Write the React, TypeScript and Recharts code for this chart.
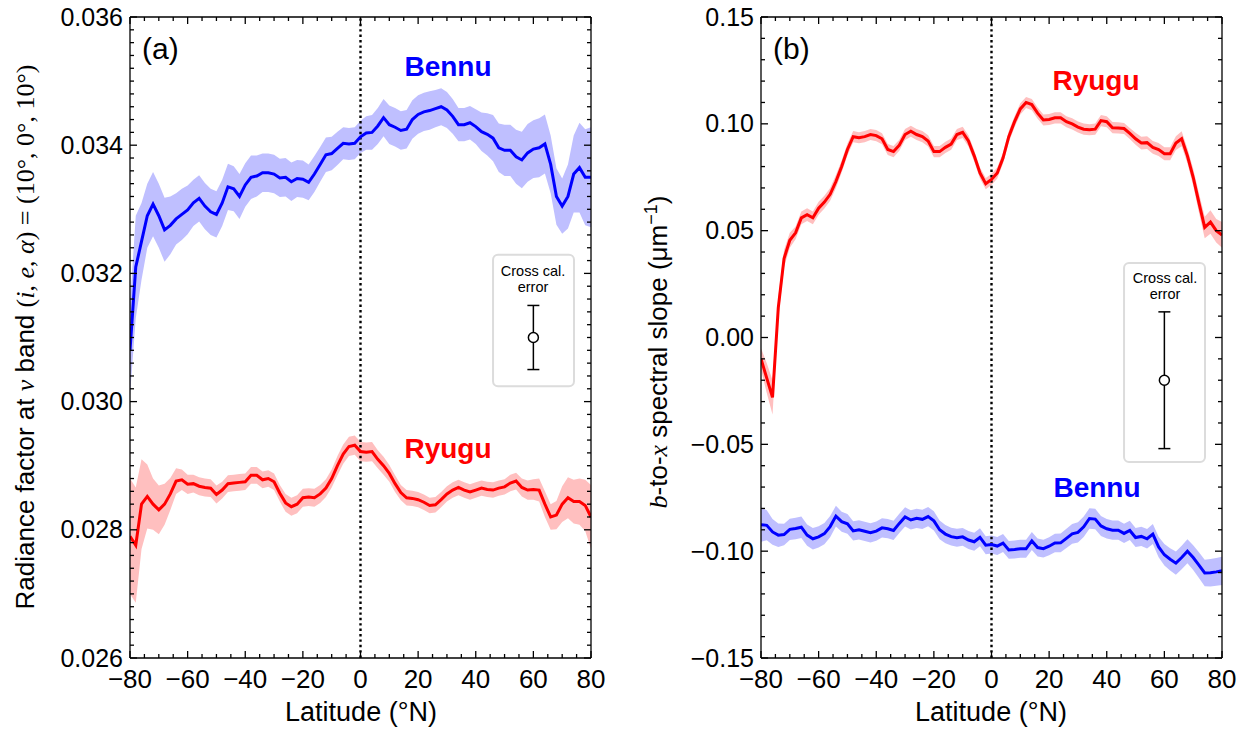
import React from 'react'
import { ComposedChart, Area, Line, Scatter, ErrorBar, XAxis, YAxis, ReferenceLine, ReferenceArea } from 'recharts'

const SANS = '"Liberation Sans", Arial, Helvetica, sans-serif'
const SERIF = '"Liberation Serif", "DejaVu Serif", serif'

// latitude grid (deg N)
const LAT = [
  -80, -78, -76, -74, -72, -70, -68, -66, -64, -62, -60, -58, -56, -54, -52, -50, -48, -46, -44, -42,
  -40, -38, -36, -34, -32, -30, -28, -26, -24, -22, -20, -18, -16, -14, -12, -10, -8, -6, -4, -2,
  0, 2, 4, 6, 8, 10, 12, 14, 16, 18, 20, 22, 24, 26, 28, 30, 32, 34, 36, 38,
  40, 42, 44, 46, 48, 50, 52, 54, 56, 58, 60, 62, 64, 66, 68, 70, 72, 74, 76, 78, 80,
]

// (a) radiance factor at v band
const BENNU_A = [
  0.0308, 0.0321, 0.0325, 0.0329, 0.03308, 0.0329, 0.03268, 0.03275, 0.03285, 0.03292,
  0.03299, 0.0331, 0.03317, 0.03305, 0.03296, 0.03292, 0.0331, 0.03335, 0.03332, 0.0332,
  0.03338, 0.0335, 0.03352, 0.03357, 0.03357, 0.03355, 0.03349, 0.0335, 0.03343, 0.03348,
  0.03347, 0.03342, 0.03355, 0.0337, 0.03385, 0.03387, 0.03395, 0.03403, 0.03402, 0.03403,
  0.03413, 0.03419, 0.0342, 0.0343, 0.03443, 0.03432, 0.03428, 0.03423, 0.03425, 0.0344,
  0.03448, 0.03452, 0.03454, 0.03457, 0.0346, 0.03455, 0.03445, 0.03432, 0.03432, 0.03435,
  0.03429, 0.03421, 0.03417, 0.03411, 0.03396, 0.03392, 0.03392, 0.03382, 0.03377, 0.03388,
  0.03394, 0.03396, 0.03402, 0.0337, 0.0332, 0.03305, 0.0332, 0.03355, 0.03365, 0.0335, 0.0335,
]
const BENNU_A_ERR = [
  0.0007, 0.0008, 0.0006, 0.0005, 0.0005, 0.0005, 0.0005, 0.00045, 0.0004, 0.0004,
  0.00038, 0.00036, 0.00036, 0.00036, 0.00036, 0.00036, 0.00036, 0.00036, 0.00035, 0.00035,
  0.00034, 0.00034, 0.00032, 0.0003, 0.0003, 0.0003, 0.0003, 0.0003, 0.0003, 0.00029,
  0.00029, 0.00028, 0.00028, 0.00027, 0.00027, 0.00026, 0.00026, 0.00025, 0.00025, 0.00025,
  0.00025, 0.00026, 0.00027, 0.00028, 0.00029, 0.0003, 0.0003, 0.0003, 0.0003, 0.0003,
  0.0003, 0.0003, 0.0003, 0.00029, 0.00029, 0.00028, 0.00027, 0.00026, 0.00026, 0.00026,
  0.00027, 0.0003, 0.00033, 0.00036, 0.00038, 0.0004, 0.0004, 0.00042, 0.00044, 0.00045,
  0.00045, 0.00046, 0.00046, 0.00045, 0.00044, 0.00043, 0.0005, 0.0006, 0.0007, 0.00075, 0.00078,
]
const RYUGU_A = [
  0.0279, 0.02776, 0.0284, 0.02852, 0.0284, 0.02831, 0.0284, 0.02856, 0.02876, 0.02878,
  0.02871, 0.02872, 0.02868, 0.02866, 0.02865, 0.02855, 0.02862, 0.02872, 0.02873, 0.02874,
  0.02875, 0.02885, 0.02885, 0.02878, 0.0288, 0.02875, 0.02857, 0.02842, 0.02836, 0.0284,
  0.0285, 0.02851, 0.0285, 0.02856, 0.02865, 0.0288, 0.029, 0.02918, 0.0293, 0.02932,
  0.02922, 0.02921, 0.02922, 0.0291, 0.029, 0.02888, 0.02872, 0.02858, 0.0285, 0.02849,
  0.02847, 0.02843, 0.02838, 0.02839, 0.02847, 0.02856, 0.02862, 0.02866, 0.02862, 0.02859,
  0.02862, 0.02865, 0.02863, 0.02862, 0.02865, 0.02867, 0.02873, 0.02876, 0.02866, 0.02862,
  0.02863, 0.02862, 0.0284, 0.0282, 0.02823, 0.0284, 0.0285, 0.02844, 0.02844, 0.02838, 0.0282,
]
const RYUGU_A_ERR = [
  0.0009, 0.0009, 0.0007, 0.0005, 0.0004, 0.00038, 0.00032, 0.00025, 0.0002, 0.00016,
  0.00015, 0.00014, 0.00014, 0.00014, 0.00014, 0.00014, 0.00013, 0.00013, 0.00013, 0.00013,
  0.00013, 0.00013, 0.00013, 0.00013, 0.00013, 0.00013, 0.00013, 0.00014, 0.00014, 0.00014,
  0.00014, 0.00014, 0.00014, 0.00014, 0.00014, 0.00014, 0.00015, 0.00015, 0.00015, 0.00015,
  0.00015, 0.00015, 0.00015, 0.00014, 0.00014, 0.00013, 0.00013, 0.00012, 0.00012, 0.00012,
  0.00012, 0.00012, 0.00012, 0.00012, 0.00012, 0.00012, 0.00012, 0.00012, 0.00012, 0.00012,
  0.00012, 0.00012, 0.00012, 0.00012, 0.00012, 0.00012, 0.00013, 0.00013, 0.00014, 0.00015,
  0.00016, 0.00018, 0.0002, 0.0002, 0.00022, 0.00028, 0.00032, 0.00034, 0.00036, 0.0004, 0.0005,
]

// (b) b-to-x spectral slope
const RYUGU_B = [
  -0.010, -0.019, -0.028, 0.014, 0.037, 0.0455, 0.049, 0.056, 0.0575, 0.056,
  0.0605, 0.0634, 0.067, 0.073, 0.080, 0.088, 0.094, 0.0935, 0.094, 0.095,
  0.0945, 0.093, 0.088, 0.087, 0.090, 0.095, 0.0965, 0.095, 0.094, 0.092,
  0.087, 0.087, 0.089, 0.0905, 0.095, 0.096, 0.092, 0.085, 0.077, 0.072,
  0.074, 0.077, 0.084, 0.094, 0.101, 0.107, 0.110, 0.109, 0.105, 0.1018,
  0.102, 0.1028, 0.1028, 0.101, 0.100, 0.0985, 0.0975, 0.0972, 0.0975, 0.1015,
  0.101, 0.0982, 0.0981, 0.0978, 0.0955, 0.093, 0.091, 0.0912, 0.089, 0.088,
  0.086, 0.086, 0.091, 0.093, 0.085, 0.075, 0.063, 0.0515, 0.054, 0.050, 0.048,
]
const RYUGU_B_ERR = [
  0.005, 0.007, 0.008, 0.005, 0.004, 0.0035, 0.003, 0.003, 0.003, 0.003,
  0.003, 0.003, 0.003, 0.003, 0.0028, 0.0028, 0.0026, 0.0026, 0.0026, 0.0026,
  0.0026, 0.0026, 0.0026, 0.0026, 0.0026, 0.0026, 0.0026, 0.0026, 0.0026, 0.0026,
  0.0026, 0.0026, 0.0026, 0.0026, 0.0026, 0.0026, 0.0026, 0.0026, 0.0026, 0.0026,
  0.0026, 0.0026, 0.0026, 0.0026, 0.0026, 0.0026, 0.0026, 0.0026, 0.0026, 0.0026,
  0.0026, 0.0026, 0.0026, 0.0026, 0.0026, 0.0026, 0.0026, 0.0026, 0.0026, 0.0026,
  0.0026, 0.0026, 0.0026, 0.0026, 0.0026, 0.0028, 0.003, 0.003, 0.003, 0.003,
  0.003, 0.003, 0.0032, 0.0035, 0.0035, 0.004, 0.0045, 0.005, 0.0055, 0.0055, 0.006,
]
const BENNU_B = [
  -0.0876, -0.0879, -0.091, -0.0925, -0.0922, -0.0898, -0.0894, -0.0888, -0.0925, -0.0942,
  -0.0933, -0.0918, -0.0885, -0.0836, -0.0862, -0.0872, -0.0905, -0.09, -0.0907, -0.0914,
  -0.0906, -0.0891, -0.0895, -0.0903, -0.087, -0.084, -0.0854, -0.0846, -0.0851, -0.0838,
  -0.0858, -0.09, -0.092, -0.0932, -0.0937, -0.0933, -0.0948, -0.0956, -0.0935, -0.0972,
  -0.0969, -0.0976, -0.0962, -0.0994, -0.0992, -0.0989, -0.0989, -0.0952, -0.0983, -0.0988,
  -0.0977, -0.0962, -0.0961, -0.094, -0.0919, -0.0912, -0.0886, -0.0847, -0.085, -0.0882,
  -0.0895, -0.0902, -0.0902, -0.0917, -0.0903, -0.0936, -0.0931, -0.0942, -0.092, -0.098,
  -0.1017, -0.1038, -0.1056, -0.103, -0.1, -0.103, -0.1065, -0.1102, -0.1101, -0.1097, -0.1092,
]
const BENNU_B_ERR = [
  0.008, 0.007, 0.006, 0.0055, 0.005, 0.005, 0.005, 0.005, 0.005, 0.005,
  0.005, 0.005, 0.005, 0.0048, 0.0047, 0.0046, 0.0045, 0.0045, 0.0045, 0.0045,
  0.0045, 0.0045, 0.0045, 0.0045, 0.0045, 0.0045, 0.0045, 0.0045, 0.0045, 0.0045,
  0.0045, 0.0044, 0.0043, 0.0042, 0.0042, 0.0042, 0.0042, 0.0042, 0.0042, 0.0042,
  0.0042, 0.0042, 0.0042, 0.0042, 0.0042, 0.0042, 0.0042, 0.0042, 0.0042, 0.0042,
  0.0042, 0.0043, 0.0044, 0.0045, 0.0046, 0.0047, 0.0048, 0.0048, 0.0048, 0.0047,
  0.0046, 0.0045, 0.0045, 0.0045, 0.0045, 0.0045, 0.0045, 0.0046, 0.0047, 0.0048,
  0.005, 0.0052, 0.0054, 0.0055, 0.0056, 0.0058, 0.006, 0.0062, 0.0064, 0.0065, 0.0066,
]

// cross-calibration error markers
const CROSS_A = [{ lat: 60, value: 0.031, err: 0.0005 }]
const CROSS_B = [{ lat: 60, value: -0.02, err: 0.032 }]

// ticks
const LAT_TICKS = [-80, -75, -70, -65, -60, -55, -50, -45, -40, -35, -30, -25, -20, -15, -10, -5, 0,
  5, 10, 15, 20, 25, 30, 35, 40, 45, 50, 55, 60, 65, 70, 75, 80]
const LAT_LABELS = [-80, -60, -40, -20, 0, 20, 40, 60, 80]
const RAD_LABELS = [0.026, 0.028, 0.03, 0.032, 0.034, 0.036]
const SLOPE_LABELS = [-0.15, -0.1, -0.05, 0, 0.05, 0.1, 0.15]
const RAD_TICKS = Array.from({ length: 51 }, (_, i) => Math.round((0.026 + i * 0.0002) * 1e5) / 1e5)
const SLOPE_TICKS = Array.from({ length: 31 }, (_, i) => Math.round((-0.15 + i * 0.01) * 100) / 100)

const W = 616
const H = 729
const AXIS = { stroke: '#000', strokeWidth: 1.3 }
const MAJOR = 7
const MINOR = 4

const minus = (s: string) => s.replace('-', '\u2212')
const fmtLat = (v: number) => minus(String(v))
const fmtRad = (v: number) => v.toFixed(3)
const fmtSlope = (v: number) => (Math.abs(v) < 1e-9 ? '0.00' : minus(v.toFixed(2)))

function buildRows(a: number[], aErr: number[], b: number[], bErr: number[]) {
  return LAT.map((lat, i) => ({
    lat,
    bennu: a[i],
    bennuBand: [a[i] - aErr[i], a[i] + aErr[i]],
    ryugu: b[i],
    ryuguBand: [b[i] - bErr[i], b[i] + bErr[i]],
  }))
}

const ROWS_A = buildRows(BENNU_A, BENNU_A_ERR, RYUGU_A, RYUGU_A_ERR)
const ROWS_B = buildRows(BENNU_B, BENNU_B_ERR, RYUGU_B, RYUGU_B_ERR)

const near = (list: number[], v: number) => list.some(m => Math.abs(m - v) < 1e-9)

interface PanelProps {
  rows: ReturnType<typeof buildRows>
  domain: [number, number]
  yTicks: number[]
  yLabels: number[]
  fmt: (v: number) => string
  cross: { lat: number; value: number; err: number }[]
  box: [number, number, number, number]
}

function Panel({ rows, domain, yTicks, yLabels, fmt, cross, box }: PanelProps) {
  const bottomTick = (p: any) => {
    const major = near(LAT_LABELS, p.payload.value)
    return (
      <g>
        <line x1={p.x} x2={p.x} y1={p.y} y2={p.y - (major ? MAJOR : MINOR)} stroke="#000" strokeWidth={1.3} />
        {major && (
          <text x={p.x} y={p.y + 30} textAnchor="middle" fontSize={26} fontFamily={SANS} fill="#000">
            {fmtLat(p.payload.value)}
          </text>
        )}
      </g>
    )
  }
  const topTick = (p: any) => {
    const major = near(LAT_LABELS, p.payload.value)
    return <line x1={p.x} x2={p.x} y1={p.y} y2={p.y + (major ? MAJOR : MINOR)} stroke="#000" strokeWidth={1.3} />
  }
  const leftTick = (p: any) => {
    const major = near(yLabels, p.payload.value)
    return (
      <g>
        <line x1={p.x} x2={p.x + (major ? MAJOR : MINOR)} y1={p.y} y2={p.y} stroke="#000" strokeWidth={1.3} />
        {major && (
          <text x={p.x - 7} y={p.y} dy="0.34em" textAnchor="end" fontSize={25} fontFamily={SANS} fill="#000">
            {fmt(p.payload.value)}
          </text>
        )}
      </g>
    )
  }
  const rightTick = (p: any) => {
    const major = near(yLabels, p.payload.value)
    return <line x1={p.x} x2={p.x - (major ? MAJOR : MINOR)} y1={p.y} y2={p.y} stroke="#000" strokeWidth={1.3} />
  }

  return (
    <ComposedChart width={W} height={H} data={rows} margin={{ top: 16, right: 24, bottom: 0, left: 0 }}>
      <XAxis xAxisId="b" type="number" dataKey="lat" domain={[-80, 80]} ticks={LAT_TICKS} interval={0}
        tickSize={0} tickMargin={0} height={71} axisLine={AXIS} tickLine={false} tick={bottomTick} allowDataOverflow />
      <XAxis xAxisId="t" orientation="top" type="number" dataKey="lat" domain={[-80, 80]} ticks={LAT_TICKS} interval={0}
        tickSize={0} tickMargin={0} height={1} axisLine={AXIS} tickLine={false} tick={topTick} allowDataOverflow />
      <YAxis yAxisId="l" type="number" domain={domain} ticks={yTicks} interval={0} width={130}
        tickSize={0} tickMargin={0} axisLine={AXIS} tickLine={false} tick={leftTick} allowDataOverflow />
      <YAxis yAxisId="r" orientation="right" type="number" domain={domain} ticks={yTicks} interval={0} width={1}
        tickSize={0} tickMargin={0} axisLine={AXIS} tickLine={false} tick={rightTick} allowDataOverflow />

      <ReferenceArea xAxisId="b" yAxisId="l" x1={box[0]} x2={box[1]} y1={box[2]} y2={box[3]}
        shape={(p: any) => (
          <rect x={p.x} y={p.y} width={p.width} height={p.height} rx={5} ry={5} fill="#fff" stroke="#dcdcdc" strokeWidth={2} />
        )} />

      <Area xAxisId="b" yAxisId="l" type="linear" dataKey="bennuBand" stroke="none" fill="#bfbfff" fillOpacity={1} isAnimationActive={false} />
      <Area xAxisId="b" yAxisId="l" type="linear" dataKey="ryuguBand" stroke="none" fill="#ffbfbf" fillOpacity={1} isAnimationActive={false} />
      <ReferenceLine xAxisId="b" yAxisId="l" x={0} stroke="#000" strokeWidth={2.4} strokeDasharray="2.4 3" />
      <Line xAxisId="b" yAxisId="l" type="linear" dataKey="bennu" stroke="#0000ff" strokeWidth={3} dot={false} isAnimationActive={false} />
      <Line xAxisId="b" yAxisId="l" type="linear" dataKey="ryugu" stroke="#ff0000" strokeWidth={3} dot={false} isAnimationActive={false} />

      <Scatter xAxisId="b" yAxisId="l" data={cross} dataKey="value" isAnimationActive={false}
        shape={(p: any) => <circle cx={p.cx} cy={p.cy} r={5} fill="#fff" stroke="#000" strokeWidth={1.5} />}>
        <ErrorBar dataKey="err" direction="y" width={6} stroke="#000" strokeWidth={1.5} />
      </Scatter>
    </ComposedChart>
  )
}

export default function App() {
  const ital = { fontFamily: SERIF, fontStyle: 'italic' as const }
  return (
    <div style={{ position: 'absolute', left: 0, top: 0, width: 1247, height: 729, overflow: 'hidden', background: '#fff' }}>
      <div style={{ position: 'absolute', left: 0, top: 0 }}>
        <Panel rows={ROWS_A} domain={[0.026, 0.036]} yTicks={RAD_TICKS} yLabels={RAD_LABELS} fmt={fmtRad}
          cross={CROSS_A} box={[46, 74.1, 0.03024, 0.03229]} />
      </div>
      <div style={{ position: 'absolute', left: 631, top: 0 }}>
        <Panel rows={ROWS_B} domain={[-0.15, 0.15]} yTicks={SLOPE_TICKS} yLabels={SLOPE_LABELS} fmt={fmtSlope}
          cross={CROSS_B} box={[46, 74.1, -0.0583, 0.0349]} />
      </div>
      <svg width={1247} height={729} style={{ position: 'absolute', left: 0, top: 0, pointerEvents: 'none' }}
        fontFamily={SANS}>
        <text transform="translate(25,337) rotate(-90)" textAnchor="middle" dy="0.35em" fontSize={26} fill="#000">
          {'Radiance factor at '}
          <tspan {...ital}>v</tspan>
          {' band '}
          <tspan fontFamily={SERIF}>
            {'('}<tspan fontStyle="italic">i</tspan>{', '}<tspan fontStyle="italic">e</tspan>{', '}
            <tspan fontStyle="italic">α</tspan>{') = (10°, 0°, 10°)'}
          </tspan>
        </text>
        <text transform="translate(658,352) rotate(-90)" textAnchor="middle" dy="0.35em" fontSize={26} fill="#000">
          <tspan {...ital}>b</tspan>
          {'-to-'}
          <tspan {...ital}>x</tspan>
          {' spectral slope (μm'}
          <tspan dy={-10} fontSize={18}>{'\u22121'}</tspan>
          <tspan dy={10}>{')'}</tspan>
        </text>

        <text x={361} y={721} textAnchor="middle" fontSize={27} fill="#000">Latitude (°N)</text>
        <text x={991} y={721} textAnchor="middle" fontSize={27} fill="#000">Latitude (°N)</text>

        <text x={142} y={59} fontSize={30} fill="#000">(a)</text>
        <text x={773} y={59} fontSize={30} fill="#000">(b)</text>

        <text x={448} y={76} textAnchor="middle" fontSize={28} fontWeight="bold" fill="#0000ff">Bennu</text>
        <text x={448} y={458} textAnchor="middle" fontSize={28} fontWeight="bold" fill="#ff0000">Ryugu</text>
        <text x={1096} y={90} textAnchor="middle" fontSize={28} fontWeight="bold" fill="#ff0000">Ryugu</text>
        <text x={1097} y={497} textAnchor="middle" fontSize={28} fontWeight="bold" fill="#0000ff">Bennu</text>

        <text x={533} y={276} textAnchor="middle" fontSize={14.5} fill="#000">Cross cal.</text>
        <text x={533} y={292} textAnchor="middle" fontSize={14.5} fill="#000">error</text>
        <text x={1165} y={283} textAnchor="middle" fontSize={14.5} fill="#000">Cross cal.</text>
        <text x={1165} y={299} textAnchor="middle" fontSize={14.5} fill="#000">error</text>
      </svg>
    </div>
  )
}
